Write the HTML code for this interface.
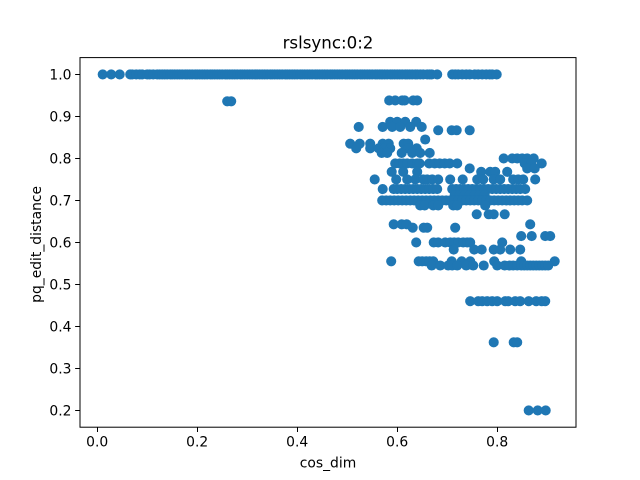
<!DOCTYPE html>
<html>
<head>
<meta charset="utf-8">
<style>
html,body{margin:0;padding:0;background:#fff;}
svg{display:block;}
text{font-family:"DejaVu Sans","Liberation Sans",sans-serif;fill:#000;}
</style>
</head>
<body>
<svg id="chart" width="640" height="480" viewBox="0 0 640 480" xmlns="http://www.w3.org/2000/svg">
<rect x="0" y="0" width="640" height="480" fill="#fff"/>
<text x="328" y="48.5" font-size="16.67" text-anchor="middle">rslsync:0:2</text>
<text x="328" y="467.5" font-size="13.89" text-anchor="middle">cos_dim</text>
<text transform="translate(41,244.4) rotate(-90)" font-size="13.89" text-anchor="middle">pq_edit_distance</text>
<g id="points"></g>
<g id="axes"></g>
<rect x="80" y="57.6" width="496" height="369.6" fill="none" stroke="#000" stroke-width="1"/>
</svg>
<script>
const xTickLabels = ["0.0","0.2","0.4","0.6","0.8"];
const yTickLabels = ["0.2","0.3","0.4","0.5","0.6","0.7","0.8","0.9","1.0"];
const pqLevels = [1.0,0.936,0.938,0.887,0.875,0.867,0.845,0.835,0.824,0.813,0.8,0.788,0.776,0.768,0.75,0.727,0.712,0.7,0.688,0.667,0.643,0.635,0.615,0.6,0.583,0.555,0.545,0.46,0.362,0.2];
const cosDimByLevel = [
[0.011,0.028,0.045,0.066,0.07,0.078,0.085,0.09,0.1,0.105,0.112,0.12,0.125,0.13,0.135,0.14,0.146,0.15,0.155,0.16,0.165,0.17,0.176,0.18,0.185,0.19,0.196,0.2,0.205,0.21,0.215,0.22,0.226,0.23,0.235,0.24,0.245,0.25,0.256,0.26,0.265,0.27,0.275,0.28,0.286,0.29,0.295,0.3,0.305,0.31,0.316,0.32,0.325,0.33,0.335,0.34,0.346,0.35,0.355,0.36,0.365,0.37,0.376,0.38,0.385,0.39,0.395,0.4,0.406,0.41,0.415,0.42,0.425,0.43,0.436,0.44,0.445,0.45,0.455,0.46,0.466,0.47,0.475,0.48,0.485,0.49,0.496,0.5,0.505,0.51,0.515,0.52,0.526,0.53,0.535,0.54,0.545,0.55,0.556,0.56,0.565,0.57,0.575,0.58,0.586,0.59,0.595,0.6,0.605,0.61,0.616,0.62,0.625,0.63,0.636,0.64,0.646,0.652,0.66,0.665,0.669,0.68,0.71,0.716,0.722,0.73,0.738,0.745,0.755,0.762,0.77,0.778,0.785,0.79,0.799],
[0.26,0.268],
[0.584,0.596,0.61,0.615,0.632,0.64],
[0.586,0.6,0.616,0.638],
[0.523,0.571,0.59,0.606,0.626,0.649],
[0.682,0.709,0.719,0.745],
[0.656],
[0.506,0.525,0.546,0.571,0.583,0.613,0.622],
[0.518,0.546,0.563,0.575,0.586,0.622,0.639],
[0.569,0.58,0.609,0.63,0.646,0.665],
[0.813,0.83,0.84,0.85,0.86,0.873],
[0.596,0.605,0.612,0.62,0.63,0.64,0.645,0.664,0.675,0.685,0.695,0.705,0.72,0.855,0.868,0.889],
[0.745,0.86,0.875],
[0.589,0.612,0.64,0.768,0.786,0.796,0.82],
[0.555,0.598,0.62,0.636,0.652,0.66,0.67,0.682,0.706,0.731,0.76,0.772,0.793,0.806,0.832,0.842,0.852,0.876],
[0.571,0.593,0.6,0.608,0.616,0.624,0.632,0.64,0.648,0.656,0.664,0.672,0.68,0.71,0.718,0.726,0.734,0.742,0.75,0.758,0.766,0.774,0.782,0.79,0.798,0.806,0.814,0.822,0.83,0.838,0.846,0.856],
[0.715,0.725,0.735,0.745,0.755,0.765,0.775],
[0.57,0.578,0.586,0.594,0.602,0.61,0.618,0.626,0.634,0.642,0.65,0.658,0.666,0.674,0.682,0.69,0.698,0.706,0.714,0.722,0.73,0.738,0.746,0.754,0.762,0.77,0.778,0.786,0.794,0.802,0.81,0.818,0.826,0.834,0.842,0.85,0.86],
[0.646,0.655,0.672,0.682,0.712,0.72,0.776],
[0.759,0.783,0.793,0.815],
[0.593,0.609,0.619,0.866],
[0.631,0.653,0.66,0.716],
[0.848,0.869,0.896,0.906],
[0.638,0.673,0.682,0.696,0.706,0.714,0.722,0.732,0.74,0.746,0.81],
[0.713,0.754,0.769,0.793,0.806,0.826,0.846],
[0.588,0.643,0.65,0.658,0.665,0.672,0.709,0.729,0.746,0.794,0.848,0.915],
[0.669,0.686,0.702,0.71,0.72,0.738,0.752,0.773,0.8,0.815,0.825,0.832,0.84,0.848,0.854,0.86,0.866,0.872,0.878,0.884,0.89,0.896,0.902],
[0.746,0.762,0.77,0.78,0.79,0.8,0.816,0.822,0.836,0.846,0.863,0.878,0.889,0.896],
[0.793,0.833,0.84],
[0.863,0.881,0.897]
];

const svgNS = "http://www.w3.org/2000/svg";
function xAxis(v){ return 97.2 + 500 * v; }
function yAxis(v){ return 74.4 + (1 - v) * 420; }

const pointsGroup = document.getElementById('points');
pqLevels.forEach(function(level, i){
  cosDimByLevel[i].forEach(function(cos){
    const c = document.createElementNS(svgNS, 'circle');
    c.setAttribute('cx', xAxis(cos));
    c.setAttribute('cy', yAxis(level));
    c.setAttribute('r', 5.05);
    c.setAttribute('fill', '#1f77b4');
    
    
    pointsGroup.appendChild(c);
  });
});

const axesGroup = document.getElementById('axes');
xTickLabels.forEach(function(label){
  const px = Math.round(xAxis(parseFloat(label))) + 0.5;
  const t = document.createElementNS(svgNS, 'line');
  t.setAttribute('x1', px);
  t.setAttribute('x2', px);
  t.setAttribute('y1', 427.2);
  t.setAttribute('y2', 432.06);
  t.setAttribute('stroke', '#000');
  t.setAttribute('stroke-width', 1);
  
  
  axesGroup.appendChild(t);
  const l = document.createElementNS(svgNS, 'text');
  l.setAttribute('x', xAxis(parseFloat(label)));
  l.setAttribute('y', 446.5);
  l.setAttribute('font-size', 13.89);
  l.setAttribute('text-anchor', 'middle');
  
  
  l.textContent = label;
  axesGroup.appendChild(l);
});
yTickLabels.forEach(function(label){
  const py = Math.round(yAxis(parseFloat(label))) + 0.5;
  const t = document.createElementNS(svgNS, 'line');
  t.setAttribute('x1', 75.14);
  t.setAttribute('x2', 80);
  t.setAttribute('y1', py);
  t.setAttribute('y2', py);
  t.setAttribute('stroke', '#000');
  t.setAttribute('stroke-width', 1);
  
  
  axesGroup.appendChild(t);
  const l = document.createElementNS(svgNS, 'text');
  l.setAttribute('x', 71.5);
  l.setAttribute('y', yAxis(parseFloat(label)) + 5.3);
  l.setAttribute('font-size', 13.89);
  l.setAttribute('text-anchor', 'end');
  
  
  l.textContent = label;
  axesGroup.appendChild(l);
});
</script>
</body>
</html>
